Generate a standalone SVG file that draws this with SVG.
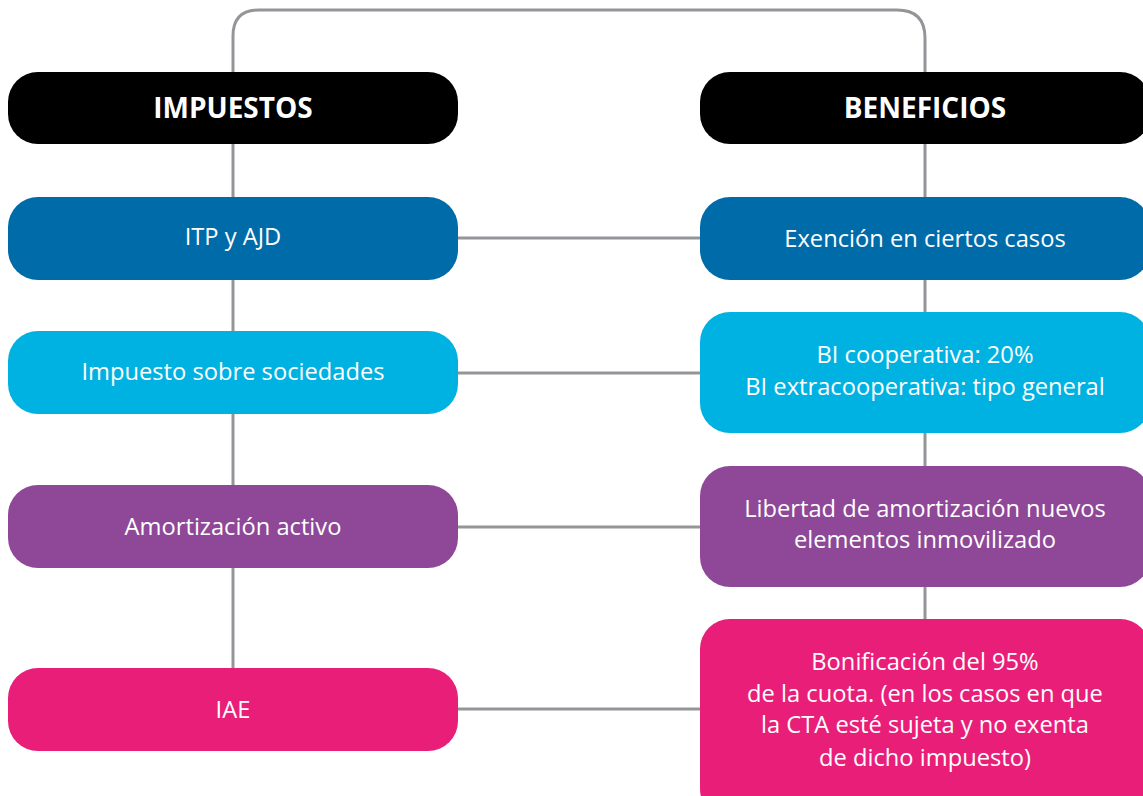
<svg xmlns="http://www.w3.org/2000/svg" width="1143" height="796" viewBox="0 0 1143 796">
<style>
.c{fill:none;stroke:#939598;stroke-width:3}
.t{font-family:"Open Sans","Noto Sans",sans-serif;font-size:23.7px;fill:#fff;text-anchor:middle}
.h{font-family:"Open Sans","Noto Sans",sans-serif;font-size:28px;font-weight:bold;fill:#fff;text-anchor:middle}
</style>
<rect width="1143" height="796" fill="#fff"/>
<g id="connectors">
<path class="c" d="M233 751 V36 Q233 10 259 10 H897 Q925 10 925 38 V620"/>
<path class="c" d="M458 238 H700 M458 373 H700 M458 527 H700 M458 709 H700"/>
</g>
<g id="impuestos"><rect x="8" y="72" width="450" height="72" rx="30" fill="#000"/><text class="h" x="233" y="118">IMPUESTOS</text></g>
<g id="beneficios"><rect x="700" y="72" width="450" height="72" rx="30" fill="#000"/><text class="h" x="925" y="118">BENEFICIOS</text></g>
<g id="itp"><rect x="8" y="197" width="450" height="83" rx="30" fill="#006BA9"/><text class="t" x="233" y="245">ITP y AJD</text></g>
<g id="exencion"><rect x="700" y="197" width="450" height="83" rx="30" fill="#006BA9"/><text class="t" x="925" y="247">Exención en ciertos casos</text></g>
<g id="sociedades"><rect x="8" y="331" width="450" height="83" rx="30" fill="#00B2E2"/><text class="t" x="233" y="380">Impuesto sobre sociedades</text></g>
<g id="bi"><rect x="700" y="312" width="450" height="121" rx="30" fill="#00B2E2"/><text class="t" x="925" y="363">BI cooperativa: 20%</text><text class="t" x="925" y="395">BI extracooperativa: tipo general</text></g>
<g id="amortizacion"><rect x="8" y="485" width="450" height="83" rx="30" fill="#8E4897"/><text class="t" x="233" y="535">Amortización activo</text></g>
<g id="libertad"><rect x="700" y="466" width="450" height="121" rx="30" fill="#8E4897"/><text class="t" x="925" y="517">Libertad de amortización nuevos</text><text class="t" x="925" y="548">elementos inmovilizado</text></g>
<g id="iae"><rect x="8" y="668" width="450" height="83" rx="30" fill="#E91E78"/><text class="t" x="233" y="718">IAE</text></g>
<g id="bonificacion"><rect x="700" y="619" width="450" height="200" rx="30" fill="#E91E78"/><text class="t" x="925" y="670">Bonificación del 95%</text><text class="t" x="925" y="702">de la cuota. (en los casos en que</text><text class="t" x="925" y="733">la CTA esté sujeta y no exenta</text><text class="t" x="925" y="766">de dicho impuesto)</text></g>
</svg>
